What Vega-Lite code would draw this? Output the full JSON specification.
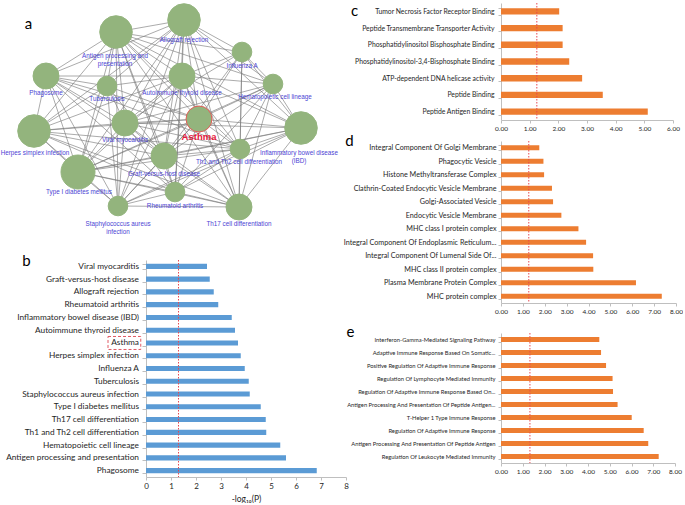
{
  "$schema": "https://vega.github.io/schema/vega-lite/v6.json",
  "padding": 0,
  "background": "white",
  "datasets": {
    "nodes": [
      {"id": "AR", "label": "Allograft rejection", "x": 185, "y": 17, "genes": 11, "lx": 185, "ly": 37},
      {"id": "AP", "label": "Antigen processing and\npresentation", "x": 117, "y": 29, "genes": 11, "lx": 116, "ly": 53},
      {"id": "IA", "label": "Influenza A", "x": 243, "y": 49, "genes": 4, "lx": 243, "ly": 63},
      {"id": "PH", "label": "Phagosome", "x": 47, "y": 73, "genes": 7, "lx": 47, "ly": 90},
      {"id": "TB", "label": "Tuberculosis", "x": 108, "y": 83, "genes": 4, "lx": 108, "ly": 96},
      {"id": "AT", "label": "Autoimmune thyroid disease", "x": 183, "y": 73, "genes": 7, "lx": 183, "ly": 90},
      {"id": "HC", "label": "Hematopoietic cell lineage", "x": 274, "y": 81, "genes": 4, "lx": 276, "ly": 94},
      {"id": "VM", "label": "Viral myocarditis", "x": 126, "y": 120, "genes": 7, "lx": 126, "ly": 137},
      {"id": "AS", "label": "Asthma", "x": 200, "y": 116, "genes": 7, "lx": 200, "ly": 134},
      {"id": "HS", "label": "Herpes simplex infection", "x": 35, "y": 128, "genes": 11, "lx": 36, "ly": 150},
      {"id": "IBD", "label": "Inflammatory bowel disease\n(IBD)", "x": 302, "y": 125, "genes": 11, "lx": 300, "ly": 150},
      {"id": "TH12", "label": "Th1 and Th2 cell differentiation", "x": 241, "y": 146, "genes": 4, "lx": 240, "ly": 159},
      {"id": "GVH", "label": "Graft-versus-host disease", "x": 165, "y": 153, "genes": 7, "lx": 165, "ly": 171},
      {"id": "T1D", "label": "Type I diabetes mellitus", "x": 79, "y": 169, "genes": 12, "lx": 80, "ly": 189},
      {"id": "RA", "label": "Rheumatoid arthritis", "x": 176, "y": 189, "genes": 4, "lx": 176, "ly": 203},
      {"id": "SA", "label": "Staphylococcus aureus\ninfection", "x": 119, "y": 203, "genes": 4, "lx": 119, "ly": 221},
      {"id": "TH17", "label": "Th17 cell differentiation", "x": 240, "y": 204, "genes": 7, "lx": 240, "ly": 221}
    ],
    "edges": [
      {"s": "AR", "t": "AP"}, {"s": "AR", "t": "IA"}, {"s": "AR", "t": "PH"}, {"s": "AR", "t": "TB"}, {"s": "AR", "t": "AT"}, {"s": "AR", "t": "HC"}, {"s": "AR", "t": "VM"}, {"s": "AR", "t": "AS"}, {"s": "AR", "t": "HS"}, {"s": "AR", "t": "IBD"}, {"s": "AR", "t": "TH12"}, {"s": "AR", "t": "GVH"}, {"s": "AR", "t": "T1D"}, {"s": "AR", "t": "RA"}, {"s": "AR", "t": "SA"}, {"s": "AR", "t": "TH17"},
      {"s": "AP", "t": "IA"}, {"s": "AP", "t": "PH"}, {"s": "AP", "t": "TB"}, {"s": "AP", "t": "AT"}, {"s": "AP", "t": "HC"}, {"s": "AP", "t": "VM"}, {"s": "AP", "t": "AS"}, {"s": "AP", "t": "HS"}, {"s": "AP", "t": "IBD"}, {"s": "AP", "t": "TH12"}, {"s": "AP", "t": "GVH"}, {"s": "AP", "t": "T1D"}, {"s": "AP", "t": "RA"}, {"s": "AP", "t": "SA"}, {"s": "AP", "t": "TH17"},
      {"s": "IA", "t": "AT"}, {"s": "IA", "t": "HC"}, {"s": "IA", "t": "VM"}, {"s": "IA", "t": "AS"}, {"s": "IA", "t": "IBD"}, {"s": "IA", "t": "TH12"}, {"s": "IA", "t": "GVH"}, {"s": "IA", "t": "TH17"},
      {"s": "PH", "t": "TB"}, {"s": "PH", "t": "AT"}, {"s": "PH", "t": "VM"}, {"s": "PH", "t": "AS"}, {"s": "PH", "t": "HS"}, {"s": "PH", "t": "TH12"}, {"s": "PH", "t": "GVH"}, {"s": "PH", "t": "T1D"}, {"s": "PH", "t": "RA"}, {"s": "PH", "t": "SA"},
      {"s": "TB", "t": "AT"}, {"s": "TB", "t": "VM"}, {"s": "TB", "t": "AS"}, {"s": "TB", "t": "HS"}, {"s": "TB", "t": "GVH"}, {"s": "TB", "t": "T1D"}, {"s": "TB", "t": "SA"},
      {"s": "AT", "t": "HC"}, {"s": "AT", "t": "VM"}, {"s": "AT", "t": "AS"}, {"s": "AT", "t": "HS"}, {"s": "AT", "t": "IBD"}, {"s": "AT", "t": "TH12"}, {"s": "AT", "t": "GVH"}, {"s": "AT", "t": "T1D"}, {"s": "AT", "t": "RA"}, {"s": "AT", "t": "SA"}, {"s": "AT", "t": "TH17"},
      {"s": "HC", "t": "VM"}, {"s": "HC", "t": "AS"}, {"s": "HC", "t": "IBD"}, {"s": "HC", "t": "TH12"}, {"s": "HC", "t": "GVH"}, {"s": "HC", "t": "T1D"}, {"s": "HC", "t": "RA"}, {"s": "HC", "t": "TH17"},
      {"s": "VM", "t": "AS"}, {"s": "VM", "t": "HS"}, {"s": "VM", "t": "IBD"}, {"s": "VM", "t": "TH12"}, {"s": "VM", "t": "GVH"}, {"s": "VM", "t": "T1D"}, {"s": "VM", "t": "RA"}, {"s": "VM", "t": "SA"}, {"s": "VM", "t": "TH17"},
      {"s": "AS", "t": "HS"}, {"s": "AS", "t": "IBD"}, {"s": "AS", "t": "TH12"}, {"s": "AS", "t": "GVH"}, {"s": "AS", "t": "T1D"}, {"s": "AS", "t": "RA"}, {"s": "AS", "t": "SA"}, {"s": "AS", "t": "TH17"},
      {"s": "HS", "t": "TH12"}, {"s": "HS", "t": "GVH"}, {"s": "HS", "t": "T1D"}, {"s": "HS", "t": "RA"}, {"s": "HS", "t": "SA"}, {"s": "HS", "t": "TH17"},
      {"s": "IBD", "t": "TH12"}, {"s": "IBD", "t": "GVH"}, {"s": "IBD", "t": "T1D"}, {"s": "IBD", "t": "RA"}, {"s": "IBD", "t": "SA"}, {"s": "IBD", "t": "TH17"},
      {"s": "TH12", "t": "GVH"}, {"s": "TH12", "t": "T1D"}, {"s": "TH12", "t": "RA"}, {"s": "TH12", "t": "SA"}, {"s": "TH12", "t": "TH17"},
      {"s": "GVH", "t": "T1D"}, {"s": "GVH", "t": "RA"}, {"s": "GVH", "t": "SA"}, {"s": "GVH", "t": "TH17"},
      {"s": "T1D", "t": "RA"}, {"s": "T1D", "t": "SA"}, {"s": "T1D", "t": "TH17"},
      {"s": "RA", "t": "SA"}, {"s": "RA", "t": "TH17"},
      {"s": "SA", "t": "TH17"}
    ]
  },
  "hconcat": [
    {
      "vconcat": [
        {
          "width": 188,
          "height": 228,
          "layer": [
            {
              "data": {"name": "edges"},
              "transform": [
                {"lookup": "s", "from": {"data": {"name": "nodes"}, "key": "id", "fields": ["x", "y"]}, "as": ["sx", "sy"]},
                {"lookup": "t", "from": {"data": {"name": "nodes"}, "key": "id", "fields": ["x", "y"]}, "as": ["tx", "ty"]}
              ],
              "mark": {"type": "rule", "color": "#7a7a7a", "strokeWidth": 0.85, "opacity": 0.75},
              "encoding": {
                "x": {"field": "sx", "type": "quantitative", "scale": {"domain": [147, 335]}, "axis": null},
                "y": {"field": "sy", "type": "quantitative", "scale": {"domain": [0, 228], "reverse": true},
                      "axis": {"title": "a", "labels": false, "ticks": false, "domain": false, "grid": false, "titleAngle": 0, "titleX": -118, "titleY": 20, "titleAlign": "center", "titleBaseline": "middle", "titleFontSize": 15, "titleFontWeight": "normal", "titleColor": "#000000"}},
                "x2": {"field": "tx"},
                "y2": {"field": "ty"}
              }
            },
            {
              "data": {"name": "nodes"},
              "mark": {"type": "point", "filled": true, "opacity": 1, "color": "#93B47D", "strokeWidth": 1},
              "encoding": {
                "x": {"field": "x", "type": "quantitative", "scale": {"domain": [147, 335]}, "axis": null},
                "y": {"field": "y", "type": "quantitative", "scale": {"domain": [0, 228], "reverse": true},
                      "axis": {"title": "a", "labels": false, "ticks": false, "domain": false, "grid": false, "titleAngle": 0, "titleX": -118, "titleY": 20, "titleAlign": "center", "titleBaseline": "middle", "titleFontSize": 15, "titleFontWeight": "normal", "titleColor": "#000000"}},
                "size": {"field": "genes", "type": "quantitative", "scale": {"domain": [0, 12], "range": [0, 1156]}, "legend": null},
                "stroke": {"condition": {"test": "datum.id === 'AS'", "value": "#E0605A"}, "value": "#93B47D"}
              }
            },
            {
              "data": {"name": "nodes"},
              "transform": [{"filter": "datum.id !== 'AS'"}],
              "mark": {"type": "text", "font": "Liberation Sans", "fontSize": 6.3, "color": "#4B44D4", "lineBreak": "\n", "baseline": "middle", "lineHeight": 7.5},
              "encoding": {
                "x": {"field": "lx", "type": "quantitative", "scale": {"domain": [147, 335]}, "axis": null},
                "y": {"field": "ly", "type": "quantitative", "scale": {"domain": [0, 228], "reverse": true},
                      "axis": {"title": "a", "labels": false, "ticks": false, "domain": false, "grid": false, "titleAngle": 0, "titleX": -118, "titleY": 20, "titleAlign": "center", "titleBaseline": "middle", "titleFontSize": 15, "titleFontWeight": "normal", "titleColor": "#000000"}},
                "text": {"field": "label"}
              }
            },
            {
              "data": {"name": "nodes"},
              "transform": [{"filter": "datum.id === 'AS'"}],
              "mark": {"type": "text", "font": "Liberation Sans", "fontSize": 9.5, "fontWeight": "bold", "color": "#E8193C", "baseline": "middle"},
              "encoding": {
                "x": {"field": "lx", "type": "quantitative", "scale": {"domain": [147, 335]}, "axis": null},
                "y": {"field": "ly", "type": "quantitative", "scale": {"domain": [0, 228], "reverse": true},
                      "axis": {"title": "a", "labels": false, "ticks": false, "domain": false, "grid": false, "titleAngle": 0, "titleX": -118, "titleY": 20, "titleAlign": "center", "titleBaseline": "middle", "titleFontSize": 15, "titleFontWeight": "normal", "titleColor": "#000000"}},
                "text": {"field": "label"}
              }
            }
          ]
        },
        {
          "width": 200,
          "height": 217,
          "data": {"values": [
            {"pathway": "Viral myocarditis", "logp": 2.44},
            {"pathway": "Graft-versus-host disease", "logp": 2.55},
            {"pathway": "Allograft rejection", "logp": 2.71},
            {"pathway": "Rheumatoid arthritis", "logp": 2.89},
            {"pathway": "Inflammatory bowel disease (IBD)", "logp": 3.43},
            {"pathway": "Autoimmune thyroid disease", "logp": 3.56},
            {"pathway": "Asthma", "logp": 3.68},
            {"pathway": "Herpes simplex infection", "logp": 3.79},
            {"pathway": "Influenza A", "logp": 3.95},
            {"pathway": "Tuberculosis", "logp": 4.11},
            {"pathway": "Staphylococcus aureus infection", "logp": 4.15},
            {"pathway": "Type I diabetes mellitus", "logp": 4.59},
            {"pathway": "Th17 cell differentiation", "logp": 4.79},
            {"pathway": "Th1 and Th2 cell differentiation", "logp": 4.81},
            {"pathway": "Hematopoietic cell lineage", "logp": 5.37},
            {"pathway": "Antigen processing and presentation", "logp": 5.6},
            {"pathway": "Phagosome", "logp": 6.83}
          ]},
          "layer": [
            {
              "mark": {"type": "bar", "color": "#5B9BD5"},
              "encoding": {
                "y": {"field": "pathway", "type": "nominal", "sort": null, "scale": {"paddingInner": 0.6, "paddingOuter": 0.3},
                      "axis": {"title": "b", "titleAngle": 0, "titleX": -120, "titleY": 0, "titleAlign": "center", "titleBaseline": "middle", "titleFontSize": 15, "titleFontWeight": "normal", "titleColor": "#000000", "titleFont": "Lato",
                               "labelFont": "Lato", "labelFontSize": 8.3, "labelPadding": 3.5, "tickBand": "extent", "tickSize": 4, "labelLimit": 300}},
                "x": {"field": "logp", "type": "quantitative", "scale": {"domain": [0, 8]},
                      "axis": {"title": "-log₁₀(P)", "titleFont": "Lato", "titleFontWeight": "normal", "titleFontSize": 8.5, "titlePadding": 4, "values": [0, 1, 2, 3, 4, 5, 6, 7, 8], "format": "d", "labelFont": "Lato", "labelFontSize": 8, "labelPadding": 2, "tickSize": 3, "labelOverlap": false, "labelFlush": false}}
              }
            },
            {
              "data": {"values": [{}]},
              "mark": {"type": "rule", "color": "#E8474F", "strokeDash": [1.5, 1.5], "strokeWidth": 1},
              "encoding": {"x": {"datum": 1.3, "type": "quantitative",
                      "axis": {"title": "-log₁₀(P)", "titleFont": "Lato", "titleFontWeight": "normal", "titleFontSize": 8.5, "titlePadding": 4, "values": [0, 1, 2, 3, 4, 5, 6, 7, 8], "format": "d", "labelFont": "Lato", "labelFontSize": 8, "labelPadding": 2, "tickSize": 3, "labelOverlap": false, "labelFlush": false}}}
            },
            {
              "data": {"values": [{}]},
              "mark": {"type": "rect", "fill": null, "stroke": "#E05A64", "strokeDash": [3, 2], "strokeWidth": 1, "height": 13},
              "encoding": {
                "y": {"datum": "Asthma", "type": "nominal"},
                "x": {"datum": -1.52, "type": "quantitative",
                      "axis": {"title": "-log₁₀(P)", "titleFont": "Lato", "titleFontWeight": "normal", "titleFontSize": 8.5, "titlePadding": 4, "values": [0, 1, 2, 3, 4, 5, 6, 7, 8], "format": "d", "labelFont": "Lato", "labelFontSize": 8, "labelPadding": 2, "tickSize": 3, "labelOverlap": false, "labelFlush": false}},
                "x2": {"datum": -0.21}
              }
            }
          ]
        }
      ],
      "spacing": 18
    },
    {
      "vconcat": [
        {
          "width": 172,
          "height": 117,
          "data": {"values": [
            {"term": "Tumor Necrosis Factor Receptor Binding", "logp": 2.03},
            {"term": "Peptide Transmembrane Transporter Activity", "logp": 2.15},
            {"term": "Phosphatidylinositol Bisphosphate Binding", "logp": 2.15},
            {"term": "Phosphatidylinositol-3,4-Bisphosphate Binding", "logp": 2.38},
            {"term": "ATP-dependent DNA helicase activity", "logp": 2.83},
            {"term": "Peptide Binding", "logp": 3.55},
            {"term": "Peptide Antigen Binding", "logp": 5.12}
          ]},
          "layer": [
            {
              "mark": {"type": "bar", "color": "#ED7D31"},
              "encoding": {
                "y": {"field": "term", "type": "nominal", "sort": null, "scale": {"paddingInner": 0.62, "paddingOuter": 0.31},
                      "axis": {"title": "c", "titleAngle": 0, "titleX": -147, "titleY": 7, "titleAlign": "center", "titleBaseline": "middle", "titleFontSize": 15, "titleFontWeight": "normal", "titleColor": "#000000", "titleFont": "Lato",
                               "labelFont": "Lato", "labelFontSize": 6.8, "labelPadding": 4, "tickBand": "extent", "tickSize": 3, "labelLimit": 300}},
                "x": {"field": "logp", "type": "quantitative", "scale": {"domain": [0, 6]},
                      "axis": {"title": null, "values": [0, 1, 2, 3, 4, 5, 6], "format": ".2f", "labelFont": "Lato", "labelFontSize": 6.5, "labelPadding": 2, "tickSize": 3, "labelOverlap": false, "labelFlush": false}}
              }
            },
            {
              "data": {"values": [{}]},
              "mark": {"type": "rule", "color": "#E8474F", "strokeDash": [1.5, 1.5], "strokeWidth": 1},
              "encoding": {"x": {"datum": 1.25, "type": "quantitative",
                      "axis": {"title": null, "values": [0, 1, 2, 3, 4, 5, 6], "format": ".2f", "labelFont": "Lato", "labelFontSize": 6.5, "labelPadding": 2, "tickSize": 3, "labelOverlap": false, "labelFlush": false}}}
            }
          ]
        },
        {
          "vconcat": [
            {
              "width": 175,
              "height": 162,
              "data": {"values": [
                {"term": "Integral Component Of Golgi Membrane", "logp": 1.75},
                {"term": "Phagocytic Vesicle", "logp": 1.94},
                {"term": "Histone Methyltransferase Complex", "logp": 1.97},
                {"term": "Clathrin-Coated Endocytic Vesicle Membrane", "logp": 2.33},
                {"term": "Golgi-Associated Vesicle", "logp": 2.38},
                {"term": "Endocytic Vesicle Membrane", "logp": 2.76},
                {"term": "MHC class I protein complex", "logp": 3.54},
                {"term": "Integral Component Of Endoplasmic Reticulum...", "logp": 3.89},
                {"term": "Integral Component Of Lumenal Side Of...", "logp": 4.21},
                {"term": "MHC class II protein complex", "logp": 4.22},
                {"term": "Plasma Membrane Protein Complex", "logp": 6.17},
                {"term": "MHC protein complex", "logp": 7.35}
              ]},
              "layer": [
                {
                  "mark": {"type": "bar", "color": "#ED7D31"},
                  "encoding": {
                    "y": {"field": "term", "type": "nominal", "sort": null, "scale": {"paddingInner": 0.62, "paddingOuter": 0.31},
                          "axis": {"title": "d", "titleAngle": 0, "titleX": -152, "titleY": -1, "titleAlign": "center", "titleBaseline": "middle", "titleFontSize": 15, "titleFontWeight": "normal", "titleColor": "#000000", "titleFont": "Lato",
                                   "labelFont": "Lato", "labelFontSize": 7.2, "labelPadding": 2, "tickBand": "extent", "tickSize": 3, "labelLimit": 300}},
                    "x": {"field": "logp", "type": "quantitative", "scale": {"domain": [0, 8]},
                          "axis": {"title": null, "values": [0, 1, 2, 3, 4, 5, 6, 7, 8], "format": ".2f", "labelFont": "Lato", "labelFontSize": 6.5, "labelPadding": 2, "tickSize": 3, "labelOverlap": false, "labelFlush": false}}
                  }
                },
                {
                  "data": {"values": [{}]},
                  "mark": {"type": "rule", "color": "#E8474F", "strokeDash": [1.5, 1.5], "strokeWidth": 1},
                  "encoding": {"x": {"datum": 1.27, "type": "quantitative",
                          "axis": {"title": null, "values": [0, 1, 2, 3, 4, 5, 6, 7, 8], "format": ".2f", "labelFont": "Lato", "labelFontSize": 6.5, "labelPadding": 2, "tickSize": 3, "labelOverlap": false, "labelFlush": false}}}
                }
              ]
            },
            {
              "width": 174,
              "height": 130,
              "data": {"values": [
                {"term": "Interferon-Gamma-Mediated Signaling Pathway", "logp": 4.52},
                {"term": "Adaptive Immune Response Based On Somatic...", "logp": 4.6},
                {"term": "Positive Regulation Of Adaptive Immune Response", "logp": 4.83},
                {"term": "Regulation Of Lymphocyte Mediated Immunity", "logp": 5.13},
                {"term": "Regulation Of Adaptive Immune Response Based On...", "logp": 5.15},
                {"term": "Antigen Processing And Presentation Of Peptide Antigen...", "logp": 5.36},
                {"term": "T-Helper 1 Type Immune Response", "logp": 6.01},
                {"term": "Regulation Of Adaptive Immune Response", "logp": 6.56},
                {"term": "Antigen Processing And Presentation Of Peptide Antigen", "logp": 6.77},
                {"term": "Regulation Of Leukocyte Mediated Immunity", "logp": 7.25}
              ]},
              "layer": [
                {
                  "mark": {"type": "bar", "color": "#ED7D31"},
                  "encoding": {
                    "y": {"field": "term", "type": "nominal", "sort": null, "scale": {"paddingInner": 0.62, "paddingOuter": 0.31},
                          "axis": {"title": "e", "titleAngle": 0, "titleX": -151, "titleY": -2, "titleAlign": "center", "titleBaseline": "middle", "titleFontSize": 15, "titleFontWeight": "normal", "titleColor": "#000000", "titleFont": "Lato",
                                   "labelFont": "Lato", "labelFontSize": 5.8, "labelPadding": 3, "tickBand": "extent", "tickSize": 3, "labelLimit": 300}},
                    "x": {"field": "logp", "type": "quantitative", "scale": {"domain": [0, 8]},
                          "axis": {"title": null, "values": [0, 1, 2, 3, 4, 5, 6, 7, 8], "format": ".2f", "labelFont": "Lato", "labelFontSize": 6.5, "labelPadding": 2, "tickSize": 3, "labelOverlap": false, "labelFlush": false}}
                  }
                },
                {
                  "data": {"values": [{}]},
                  "mark": {"type": "rule", "color": "#E8474F", "strokeDash": [1.5, 1.5], "strokeWidth": 1},
                  "encoding": {"x": {"datum": 1.33, "type": "quantitative",
                          "axis": {"title": null, "values": [0, 1, 2, 3, 4, 5, 6, 7, 8], "format": ".2f", "labelFont": "Lato", "labelFontSize": 6.5, "labelPadding": 2, "tickSize": 3, "labelOverlap": false, "labelFlush": false}}}
                }
              ]
            }
          ],
          "spacing": 9
        }
      ],
      "spacing": 1
    }
  ],
  "spacing": -6,
  "config": {
    "font": "Lato",
    "view": {"stroke": null},
    "axis": {"grid": false, "domainColor": "#bfbfbf", "tickColor": "#bfbfbf", "labelColor": "#262626", "titleColor": "#262626"}
  }
}
